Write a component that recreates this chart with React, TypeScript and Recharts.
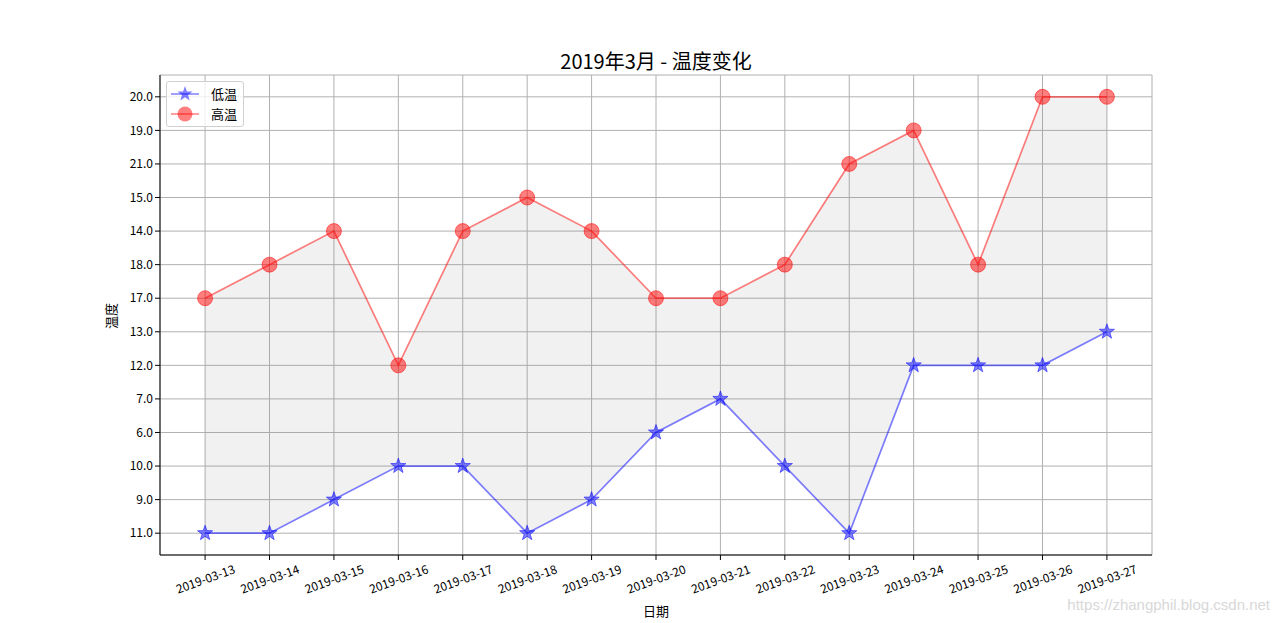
import React from 'react';
import { ComposedChart, Line, Area, XAxis, YAxis, CartesianGrid } from 'recharts';

const dates = [
  '2019-03-13', '2019-03-14', '2019-03-15', '2019-03-16', '2019-03-17',
  '2019-03-18', '2019-03-19', '2019-03-20', '2019-03-21', '2019-03-22',
  '2019-03-23', '2019-03-24', '2019-03-25', '2019-03-26', '2019-03-27',
];

// y axis is categorical (string labels), bottom to top
const yCategories = ['11.0', '9.0', '10.0', '6.0', '7.0', '12.0', '13.0', '17.0', '18.0', '14.0', '15.0', '21.0', '19.0', '20.0'];

const lowTemps = ['11.0', '11.0', '9.0', '10.0', '10.0', '11.0', '9.0', '6.0', '7.0', '10.0', '11.0', '12.0', '12.0', '12.0', '13.0'];
const highTemps = ['17.0', '18.0', '14.0', '12.0', '14.0', '15.0', '14.0', '17.0', '17.0', '18.0', '21.0', '19.0', '18.0', '20.0', '20.0'];

const data = dates.map((d, i) => {
  const low = yCategories.indexOf(lowTemps[i]);
  const high = yCategories.indexOf(highTemps[i]);
  return { idx: i, date: d, low, high, band: [low, high] };
});

const FONT = '"Noto Sans CJK SC", "DejaVu Sans", sans-serif';

const starPoints = (cx: number, cy: number, r: number) => {
  const pts: string[] = [];
  for (let k = 0; k < 10; k++) {
    const rad = k % 2 === 0 ? r : r * 0.4;
    const a = -Math.PI / 2 + (k * Math.PI) / 5;
    pts.push(`${cx + rad * Math.cos(a)},${cy + rad * Math.sin(a)}`);
  }
  return pts.join(' ');
};

const StarDot = (props: any) => {
  const { cx, cy } = props;
  if (cx == null || cy == null) return null;
  return <polygon points={starPoints(cx, cy, 8)} fill="rgba(0,0,255,0.5)" stroke="rgba(0,0,255,0.5)" strokeWidth={1} />;
};

const CircleDot = (props: any) => {
  const { cx, cy } = props;
  if (cx == null || cy == null) return null;
  return <circle cx={cx} cy={cy} r={7.5} fill="rgba(255,0,0,0.5)" stroke="rgba(255,0,0,0.5)" strokeWidth={1} />;
};

const XTick = (props: any) => {
  const { x, y, payload } = props;
  return (
    <g transform={`translate(${x},${y + 16}) rotate(-20)`}>
      <text textAnchor="middle" dominantBaseline="central" fontSize={12} fill="#000" fontFamily={FONT}>
        {dates[payload.value]}
      </text>
    </g>
  );
};

const LegendBox = () => (
  <div
    style={{
      position: 'absolute',
      left: 166,
      top: 81,
      background: 'rgba(255,255,255,0.8)',
      border: '1px solid #d0d0d0',
      borderRadius: 3,
      padding: '2px 6px 2px 4px',
      fontSize: 13,
      lineHeight: '20px',
    }}
  >
    <div style={{ display: 'flex', alignItems: 'center' }}>
      <svg width={30} height={20}>
        <line x1={0} y1={10} x2={28} y2={10} stroke="rgba(0,0,255,0.5)" strokeWidth={1.5} />
        <polygon points={starPoints(14, 10, 8)} fill="rgba(0,0,255,0.5)" />
      </svg>
      <span style={{ marginLeft: 10 }}>低温</span>
    </div>
    <div style={{ display: 'flex', alignItems: 'center' }}>
      <svg width={30} height={20}>
        <line x1={0} y1={10} x2={28} y2={10} stroke="rgba(255,0,0,0.5)" strokeWidth={1.5} />
        <circle cx={14} cy={10} r={7.5} fill="rgba(255,0,0,0.5)" />
      </svg>
      <span style={{ marginLeft: 10 }}>高温</span>
    </div>
  </div>
);

export default function App() {
  return (
    <div style={{ position: 'fixed', left: 0, top: 0, width: 1280, height: 623, background: '#fff', fontFamily: FONT }}>
      <div style={{ position: 'absolute', left: 656, top: 60, transform: 'translate(-50%,-50%)', fontSize: 20, whiteSpace: 'nowrap' }}>
        2019年3月 - 温度变化
      </div>
      <ComposedChart
        width={1280}
        height={623}
        data={data}
        margin={{ top: 75, right: 128, bottom: 8, left: 100 }}
      >
        <CartesianGrid xAxisId="main" yAxisId="main" stroke="#b0b0b0" strokeWidth={1} />
        <XAxis
          xAxisId="main"
          dataKey="idx"
          type="number"
          domain={[-0.7, 14.7]}
          ticks={data.map((d) => d.idx)}
          interval={0}
          allowDataOverflow
          height={60}
          tickSize={5}
          tick={<XTick />}
          stroke="#000"
        />
        <XAxis xAxisId="top" orientation="top" type="number" domain={[0, 1]} height={0} tick={false} tickLine={false} stroke="#000" />
        <YAxis
          yAxisId="main"
          type="number"
          domain={[-0.65, 13.65]}
          ticks={yCategories.map((_, i) => i)}
          interval={0}
          allowDataOverflow
          width={60}
          tickSize={5}
          tickFormatter={(v: number) => yCategories[v]}
          tick={{ fill: '#000', fontSize: 12, fontFamily: FONT }}
          stroke="#000"
        />
        <YAxis yAxisId="right" orientation="right" type="number" domain={[0, 1]} width={0} tick={false} tickLine={false} stroke="#000" />
        <Area
          xAxisId="main"
          yAxisId="main"
          dataKey="band"
          type="linear"
          fill="#808080"
          fillOpacity={0.11}
          stroke="none"
          isAnimationActive={false}
          legendType="none"
        />
        <Line
          xAxisId="main"
          yAxisId="main"
          dataKey="low"
          name="低温"
          type="linear"
          stroke="rgba(0,0,255,0.5)"
          strokeWidth={1.7}
          dot={<StarDot />}
          activeDot={false}
          isAnimationActive={false}
        />
        <Line
          xAxisId="main"
          yAxisId="main"
          dataKey="high"
          name="高温"
          type="linear"
          stroke="rgba(255,0,0,0.5)"
          strokeWidth={1.7}
          dot={<CircleDot />}
          activeDot={false}
          isAnimationActive={false}
        />
      </ComposedChart>
      <LegendBox />
      <div style={{ position: 'absolute', left: 110, top: 316, transform: 'translate(-50%,-50%) rotate(-90deg)', fontSize: 13, whiteSpace: 'nowrap' }}>温度</div>
      <div style={{ position: 'absolute', left: 656, top: 610, transform: 'translate(-50%,-50%)', fontSize: 13 }}>日期</div>
      <div style={{ position: 'absolute', right: 10, top: 596, fontSize: 15, color: '#d8d8d8', fontFamily: '"Liberation Sans", Arial, sans-serif' }}>
        https://zhangphil.blog.csdn.net
      </div>
    </div>
  );
}
